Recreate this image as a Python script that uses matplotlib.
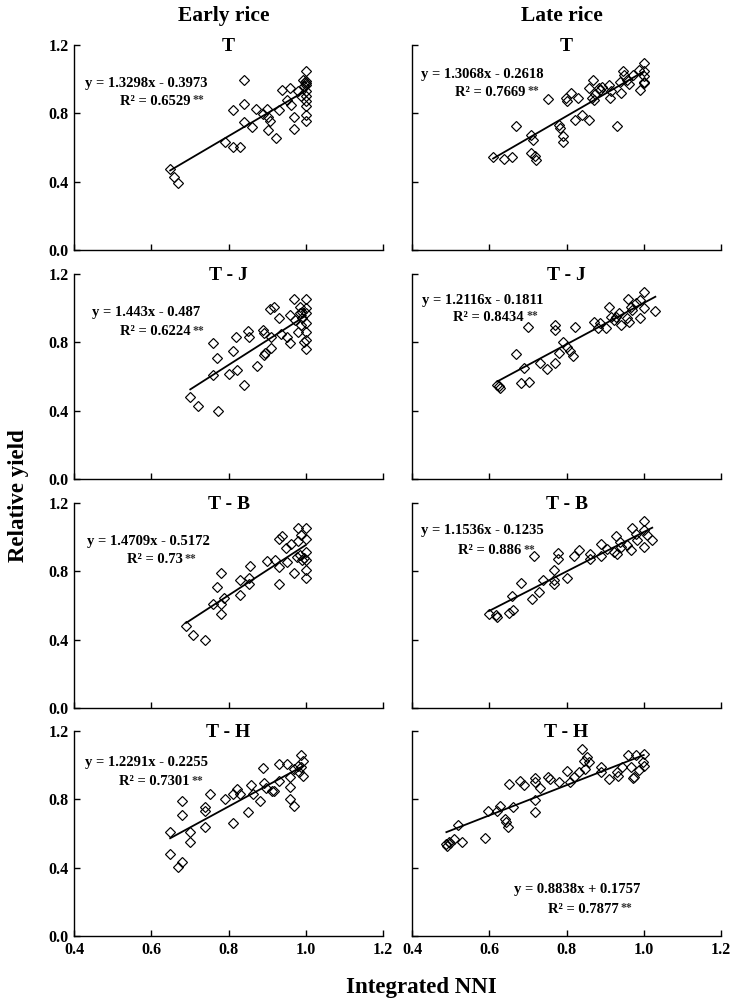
import matplotlib
matplotlib.use("Agg")
import matplotlib.pyplot as plt
import numpy as np

plt.rcParams['font.family'] = ['Liberation Serif', 'DejaVu Serif']
plt.rcParams['font.weight'] = 'bold'

# ---------------- data ----------------
col_titles = ["Early rice", "Late rice"]
row_titles = ["T", "T - J", "T - B", "T - H"]

early_T_x = [0.649,0.660,0.669,0.792,0.811,0.831,0.811,0.839,0.840,0.840,0.861,0.872,0.889,0.900,0.902,0.908,0.901,0.922,0.932,0.938,0.951,0.960,0.962,0.970,0.970,0.979,0.988,1.001,0.993,1.000,1.000,1.000,1.000,1.000,1.000,1.000,0.995,1.000,1.000,0.998]
early_T_y = [0.476,0.427,0.394,0.633,0.604,0.604,0.821,0.996,0.856,0.748,0.722,0.825,0.796,0.825,0.779,0.753,0.705,0.656,0.817,0.938,0.880,0.948,0.850,0.779,0.711,0.928,0.899,1.045,0.996,0.977,0.928,0.899,0.870,0.845,0.792,0.753,0.961,0.990,0.965,0.985]

late_T_x = [0.610,0.639,0.660,0.669,0.709,0.712,0.709,0.718,0.720,0.751,0.780,0.782,0.791,0.790,0.799,0.802,0.812,0.830,0.821,0.840,0.859,0.858,0.868,0.867,0.875,0.884,0.892,0.910,0.912,0.914,0.931,0.938,0.941,0.946,0.950,0.957,0.961,0.972,0.987,0.990,1.000,1.000,1.000,1.000,1.000,0.871,0.888]
late_T_y = [0.546,0.534,0.546,0.724,0.676,0.643,0.569,0.553,0.524,0.885,0.734,0.715,0.670,0.633,0.889,0.870,0.918,0.891,0.759,0.792,0.759,0.948,0.996,0.889,0.915,0.948,0.957,0.967,0.889,0.928,0.724,0.981,0.918,1.045,1.025,0.996,0.973,1.025,1.054,0.938,1.093,1.045,1.016,0.986,0.977,0.880,0.938]

early_TJ_x = [0.701,0.721,0.761,0.770,0.761,0.772,0.800,0.811,0.822,0.820,0.839,0.850,0.852,0.874,0.889,0.891,0.891,0.895,0.910,0.908,0.917,0.910,0.930,0.936,0.951,0.958,0.960,0.969,0.973,0.979,0.984,0.988,0.991,1.000,1.000,1.000,1.000,1.000,1.000,1.000,0.996,0.986,0.990]
early_TJ_y = [0.482,0.427,0.794,0.710,0.609,0.398,0.613,0.751,0.638,0.829,0.550,0.866,0.833,0.661,0.872,0.853,0.726,0.739,0.765,0.993,1.005,0.829,0.940,0.849,0.829,0.960,0.794,1.052,0.931,0.862,1.009,0.901,0.980,1.052,0.999,0.970,0.911,0.862,0.814,0.759,0.804,0.970,0.940]

late_TJ_x = [0.620,0.629,0.624,0.669,0.681,0.689,0.701,0.702,0.731,0.750,0.770,0.771,0.771,0.780,0.790,0.802,0.809,0.817,0.821,0.871,0.881,0.901,0.909,0.914,0.922,0.935,0.940,0.959,0.961,0.957,0.967,0.979,0.990,1.000,1.000,0.991,1.030,0.888,0.927,0.970]
late_TJ_y = [0.550,0.531,0.544,0.730,0.564,0.648,0.892,0.570,0.677,0.642,0.681,0.901,0.872,0.736,0.804,0.771,0.751,0.720,0.892,0.921,0.882,0.882,1.005,0.946,0.931,0.970,0.901,1.052,0.921,0.940,1.009,1.028,0.940,1.097,0.999,1.048,0.983,0.911,0.950,0.989]

early_TB_x = [0.690,0.709,0.740,0.760,0.770,0.781,0.781,0.781,0.789,0.830,0.830,0.852,0.852,0.856,0.900,0.921,0.930,0.931,0.930,0.938,0.951,0.950,0.969,0.962,0.979,0.979,0.984,0.988,0.996,1.000,1.000,1.000,1.000,1.000,1.000,0.990,0.977]
early_TB_y = [0.478,0.425,0.396,0.611,0.708,0.790,0.607,0.548,0.646,0.660,0.751,0.763,0.728,0.829,0.860,0.864,0.825,0.724,0.991,1.005,0.855,0.939,0.790,0.958,1.056,0.978,0.894,1.011,0.880,1.056,0.991,0.913,0.864,0.806,0.761,0.864,0.884]

late_TB_x = [0.599,0.620,0.618,0.650,0.662,0.659,0.681,0.711,0.717,0.728,0.739,0.767,0.768,0.768,0.778,0.778,0.802,0.819,0.832,0.860,0.860,0.889,0.889,0.905,0.928,0.931,0.939,0.941,0.966,0.970,0.979,0.983,1.000,1.000,1.000,1.022,1.008,0.957,0.922]
late_TB_y = [0.548,0.533,0.542,0.558,0.572,0.654,0.732,0.640,0.888,0.679,0.747,0.806,0.747,0.728,0.907,0.870,0.763,0.888,0.923,0.903,0.874,0.962,0.888,0.933,1.005,0.899,0.972,0.942,0.923,1.056,1.020,0.981,1.095,1.040,0.942,0.981,1.011,0.952,0.913]

early_TH_x = [0.649,0.649,0.668,0.680,0.680,0.680,0.701,0.701,0.740,0.740,0.740,0.751,0.790,0.811,0.811,0.822,0.830,0.850,0.858,0.863,0.881,0.889,0.891,0.898,0.913,0.919,0.930,0.932,0.951,0.958,0.960,0.958,0.970,0.969,0.979,0.988,0.993,0.988,0.993,0.982]
early_TH_y = [0.611,0.479,0.401,0.431,0.793,0.710,0.611,0.548,0.757,0.734,0.640,0.832,0.802,0.659,0.832,0.861,0.832,0.724,0.881,0.832,0.793,0.982,0.894,0.867,0.851,0.851,1.004,0.906,1.008,0.930,0.871,0.802,0.763,0.978,0.998,1.057,1.027,0.988,0.939,0.959]

late_TH_x = [0.489,0.495,0.491,0.499,0.510,0.519,0.530,0.590,0.597,0.620,0.629,0.642,0.644,0.649,0.650,0.661,0.679,0.691,0.718,0.719,0.719,0.719,0.731,0.752,0.758,0.780,0.800,0.810,0.819,0.832,0.839,0.846,0.853,0.857,0.849,0.890,0.890,0.910,0.931,0.933,0.944,0.959,0.967,0.973,0.976,0.981,0.987,1.000,1.000,0.998]
late_TH_y = [0.538,0.548,0.524,0.542,0.568,0.652,0.548,0.571,0.734,0.734,0.763,0.685,0.665,0.636,0.890,0.757,0.906,0.881,0.926,0.900,0.798,0.724,0.867,0.930,0.920,0.900,0.965,0.900,0.933,0.959,1.096,1.027,1.047,1.018,0.978,0.992,0.959,0.920,0.959,0.939,0.988,1.057,0.988,0.926,0.933,1.057,0.969,1.067,0.998,1.018]

# regression fits (slope, intercept, R2) per panel: [row][col]
slopes     = [[1.3298, 1.3068], [1.443, 1.2116], [1.4709, 1.1536], [1.2291, 0.8838]]
intercepts = [[-0.3973, -0.2618], [-0.487, -0.1811], [-0.5172, -0.1235], [-0.2255, 0.1757]]
r2_labels  = [["0.6529", "0.7669"], ["0.6224", "0.8434"], ["0.73", "0.886"], ["0.7301", "0.7877"]]
eq_labels  = [["y = 1.3298x - 0.3973", "y = 1.3068x - 0.2618"],
              ["y = 1.443x - 0.487", "y = 1.2116x - 0.1811"],
              ["y = 1.4709x - 0.5172", "y = 1.1536x - 0.1235"],
              ["y = 1.2291x - 0.2255", "y = 0.8838x + 0.1757"]]

xs = [[early_T_x, late_T_x], [early_TJ_x, late_TJ_x], [early_TB_x, late_TB_x], [early_TH_x, late_TH_x]]
ys = [[early_T_y, late_T_y], [early_TJ_y, late_TJ_y], [early_TB_y, late_TB_y], [early_TH_y, late_TH_y]]

x_ticks = [0.4, 0.6, 0.8, 1.0, 1.2]
y_ticks = [0.0, 0.4, 0.8, 1.2]

# ---------------- layout ----------------
W, H = 737, 1006
fig = plt.figure(figsize=(W / 100, H / 100), dpi=100)

col_left_px = [74, 412]
ax_w_px = 309
row_top_px = [45, 274, 503, 731]
ax_h_px = 205

# equation text positions (axes fraction): (eq_x, eq_y, r2_x, r2_y)
text_pos = [[(0.233, 0.81, 0.262, 0.725), (0.228, 0.854, 0.252, 0.768)],
            [(0.235, 0.812, 0.262, 0.718), (0.228, 0.872, 0.248, 0.788)],
            [(0.242, 0.812, 0.262, 0.722), (0.228, 0.864, 0.252, 0.767)],
            [(0.236, 0.846, 0.260, 0.752), (0.533, 0.227, 0.553, 0.130)]]

for r in range(4):
    for c in range(2):
        left = col_left_px[c] / W
        bottom = 1 - (row_top_px[r] + ax_h_px) / H
        ax = fig.add_axes([left, bottom, ax_w_px / W, ax_h_px / H])
        x = np.array(xs[r][c])
        y = np.array(ys[r][c])
        ax.plot(x, y, linestyle='none', marker='D', markersize=5.0,
                markerfacecolor='none', markeredgecolor='black', markeredgewidth=0.85)
        xl = np.array([x.min(), x.max()])
        ax.plot(xl, slopes[r][c] * xl + intercepts[r][c], color='black', lw=1.3)

        ax.set_xlim(0.4, 1.2)
        ax.set_ylim(0.0, 1.2)
        ax.set_xticks(x_ticks)
        ax.set_yticks(y_ticks)
        for s in ['top', 'right']:
            ax.spines[s].set_visible(False)
        for s in ['left', 'bottom']:
            ax.spines[s].set_linewidth(1.0)
        ax.tick_params(direction='in', length=4.5, width=1.0, labelsize=11.5, pad=4)
        if c == 0:
            ax.set_yticklabels([f"{v:.1f}" for v in y_ticks], fontweight='bold')
        else:
            ax.set_yticklabels([])
        if r == 3:
            ax.set_xticklabels([f"{v:.1f}" for v in x_ticks], fontweight='bold')
        else:
            ax.set_xticklabels([])

        ax.text(0.5, 0.995, row_titles[r], transform=ax.transAxes, ha='center',
                va='center', fontsize=14, fontweight='bold')
        ex, ey, rx, ry = text_pos[r][c]
        ax.text(ex, ey, eq_labels[r][c], transform=ax.transAxes, ha='center',
                va='center', fontsize=10.5, fontweight='bold')
        t = ax.text(rx, ry, "R\u00b2 = " + r2_labels[r][c], transform=ax.transAxes,
                    ha='center', va='center', fontsize=10.5, fontweight='bold')
        ax.annotate("**", xy=(1, 1), xycoords=t, xytext=(1.5, 0.5),
                    textcoords='offset points', ha='left', va='top',
                    fontsize=8.5, fontweight='bold', color='#333333')

fig.text(224 / W, 1 - 16 / H, col_titles[0], ha='center', va='center',
         fontsize=15.5, fontweight='bold')
fig.text(562 / W, 1 - 16 / H, col_titles[1], ha='center', va='center',
         fontsize=15.5, fontweight='bold')
fig.text(19 / W, 1 - 496 / H, "Relative yield", rotation=90, ha='center',
         va='center', fontsize=16.5, fontweight='bold')
fig.text(421 / W, 1 - 988 / H, "Integrated NNI", ha='center', va='center',
         fontsize=16.5, fontweight='bold')

fig.savefig("out.png", dpi=100, facecolor='white')
